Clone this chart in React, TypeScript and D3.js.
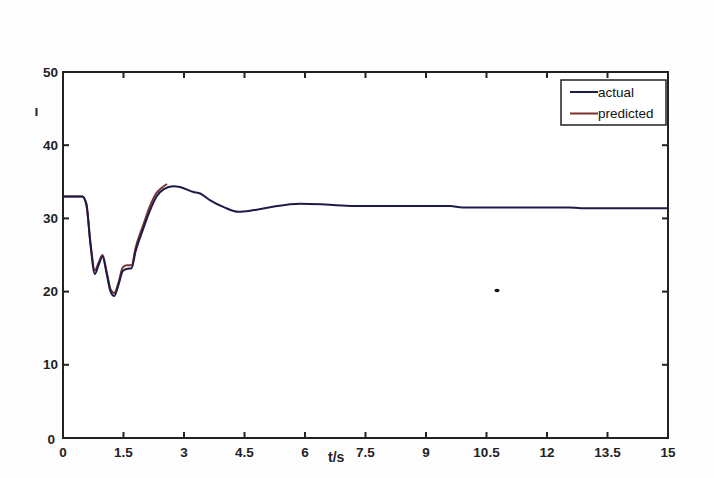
import React from "react";
import * as d3 from "d3";

const xTicks = [0, 1.5, 3, 4.5, 6, 7.5, 9, 10.5, 12, 13.5, 15];
const xTickLabels = ["0", "1.5", "3", "4.5", "6", "7.5", "9", "10.5", "12", "13.5", "15"];
const yTicks = [0, 10, 20, 30, 40, 50];

const actualT = [0, 0.48, 0.58, 0.68, 0.79, 0.88, 0.98, 1.08, 1.18, 1.27, 1.38, 1.48, 1.58, 1.7, 1.8, 1.99, 2.15, 2.32, 2.5, 2.73, 2.9, 3.23, 3.4, 3.64, 4.0, 4.35, 4.7, 5.2, 5.88, 6.5, 7.2, 9.6, 9.9, 12.55, 12.85, 15];
const actualV = [33, 33, 32, 26.5, 22.4, 23.6, 24.8, 22.5, 20, 19.4, 21, 22.8, 23.1, 23.2, 25.5, 28.6, 31, 33, 34, 34.4, 34.3, 33.6, 33.4, 32.5, 31.5, 30.9, 31.1, 31.6, 32.0, 31.9, 31.7, 31.7, 31.5, 31.5, 31.4, 31.4];

const predT = [0, 0.48, 0.58, 0.68, 0.79, 0.88, 0.98, 1.08, 1.18, 1.27, 1.38, 1.48, 1.58, 1.7, 1.8, 1.99, 2.15, 2.32, 2.45, 2.58];
const predV = [33, 33, 31.8, 26.7, 22.9, 23.9, 25.0, 22.8, 20.3, 19.8, 21.3, 23.3, 23.6, 23.6, 26, 29.1, 31.6, 33.5, 34.2, 34.7];

const seriesNames = ["actual", "predicted"];
const seriesColors = ["#1c1c48", "#7a3232"];

export default function App() {
  const W = 714, H = 478;
  const x0 = 63, x1 = 668, yTop = 72, yBot = 438;
  const x = d3.scaleLinear().domain([0, 15]).range([x0, x1]);
  const y = d3.scaleLinear().domain([0, 50]).range([yBot, yTop]);
  const line = d3.line<[number, number]>().x(d => x(d[0])).y(d => y(d[1])).curve(d3.curveMonotoneX);
  const actual = actualT.map((t, i) => [t, actualV[i]] as [number, number]);
  const pred = predT.map((t, i) => [t, predV[i]] as [number, number]);
  const axisColor = "#222";
  const font = "'Liberation Sans', Arial, sans-serif";
  const tl = 6;
  return (
    <svg width={W} height={H} style={{ position: "absolute", left: 0, top: 0, background: "#fff" }}>
      <rect x={0} y={0} width={W} height={H} fill="#fdfdfd" />
      <rect x={x0} y={yTop} width={x1 - x0} height={yBot - yTop} fill="#fff" />
      {/* curves */}
      <path d={line(pred) || ""} fill="none" stroke={seriesColors[1]} strokeWidth={2} />
      <path d={line(actual) || ""} fill="none" stroke={seriesColors[0]} strokeWidth={2} />
      {/* frame */}
      <rect x={x0} y={yTop} width={x1 - x0} height={yBot - yTop} fill="none" stroke={axisColor} strokeWidth={2} />
      {xTicks.map((t, i) => (
        <g key={"x" + i}>
          <line x1={x(t)} x2={x(t)} y1={yBot} y2={yBot - tl} stroke={axisColor} strokeWidth={2} />
          <line x1={x(t)} x2={x(t)} y1={yTop} y2={yTop + tl} stroke={axisColor} strokeWidth={2} />
          <text x={x(t)} y={456.5} textAnchor="middle" fontFamily={font} fontWeight="bold" fontSize={13.5} fill="#222">
            {xTickLabels[i]}
          </text>
        </g>
      ))}
      {yTicks.map((t, i) => (
        <g key={"y" + i}>
          <line x1={x0} x2={x0 + tl} y1={y(t)} y2={y(t)} stroke={axisColor} strokeWidth={2} />
          <line x1={x1} x2={x1 - tl} y1={y(t)} y2={y(t)} stroke={axisColor} strokeWidth={2} />
          <text x={t === 0 ? 55 : 58} y={y(t) + (t === 0 ? 6 : 4.5)} textAnchor="end" fontFamily={font} fontWeight="bold" fontSize={13.5} fill="#222">
            {String(t)}
          </text>
        </g>
      ))}
      <text x={328} y={462} fontFamily={font} fontWeight="bold" fontSize={14} fill="#222">t/s</text>
      {/* legend */}
      <rect x={561} y={80} width={105} height={45} fill="#fff" stroke={axisColor} strokeWidth={1.5} />
      {seriesNames.map((n, i) => (
        <g key={n}>
          <line x1={570} x2={598} y1={92 + i * 21.5} y2={92 + i * 21.5} stroke={seriesColors[i]} strokeWidth={2} />
          <text x={598} y={96.5 + i * 21.5} fontFamily={font} fontSize={13.5} fill="#111">{n}</text>
        </g>
      ))}
      {/* stray marks */}
      <rect x={35.5} y={108} width={2} height={8} fill="#222" />
      <ellipse cx={497} cy={290.5} rx={2.5} ry={1.8} fill="#111" />
    </svg>
  );
}
